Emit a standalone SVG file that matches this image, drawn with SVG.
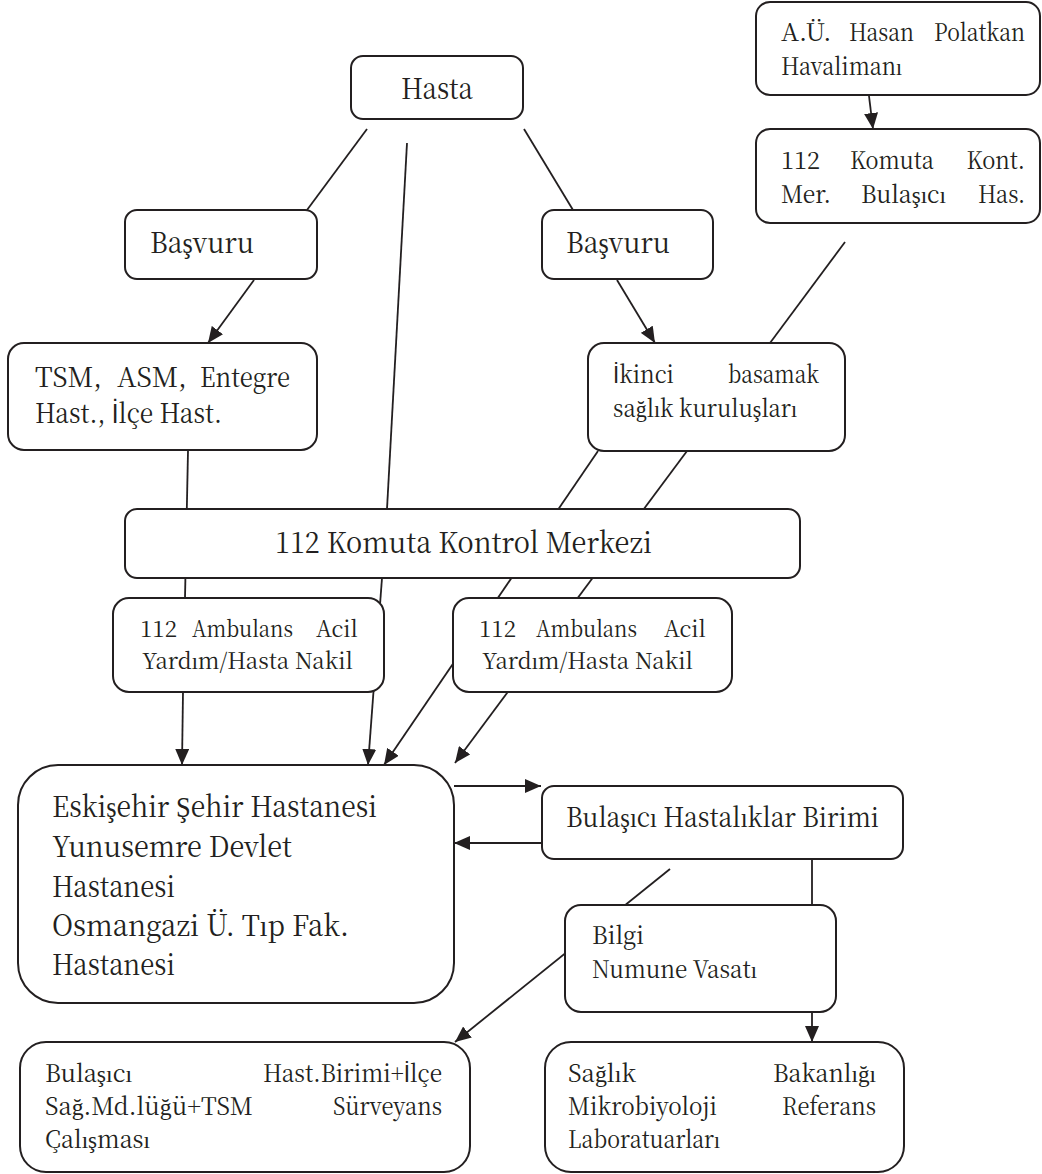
<svg xmlns="http://www.w3.org/2000/svg" width="1042" height="1174" viewBox="0 0 1042 1174">
<style>
  .box { fill: #ffffff; stroke: #231f20; stroke-width: 2; }
  .ln { fill: none; stroke: #231f20; stroke-width: 1.8; }
  .arr { fill: none; stroke: #231f20; stroke-width: 1.8; marker-end: url(#ah); }
  text { font-family: 'Noto Serif CJK SC', 'Liberation Serif', 'Times New Roman', serif; fill: #231f20; }
  .ii { font-family: 'Liberation Sans', 'DejaVu Sans', sans-serif; }
  .f32 { font-size: 29.5px; }
  .f31 { font-size: 28.5px; }
  .f29 { font-size: 27px; }
  .f26 { font-size: 24px; }
  .f24 { font-size: 22.5px; }
</style>
<defs>
  <marker id="ah" viewBox="0 0 16 14" refX="16" refY="7" markerWidth="16" markerHeight="14" markerUnits="userSpaceOnUse" orient="auto">
    <path d="M0,0 L16,7 L0,14 z" fill="#231f20"/>
  </marker>
</defs>
<rect width="1042" height="1174" fill="#ffffff"/>

<g id="connectors">
  <line class="ln" x1="367" y1="129" x2="307" y2="210"/>
  <line class="ln" x1="524" y1="129" x2="573" y2="210"/>
  <line class="ln" x1="407" y1="143" x2="387" y2="509"/>
  <line class="arr" x1="382" y1="578" x2="368" y2="765"/>
  <line class="arr" x1="869" y1="96" x2="873" y2="129"/>
  <line class="arr" x1="254" y1="280" x2="208" y2="343"/>
  <line class="arr" x1="617" y1="280" x2="655" y2="343"/>
  <line class="ln" x1="845" y1="242" x2="770" y2="343"/>
  <line class="ln" x1="188" y1="451" x2="185" y2="598"/>
  <line class="arr" x1="183" y1="692" x2="182" y2="765"/>
  <line class="arr" x1="598" y1="451" x2="384" y2="765"/>
  <line class="arr" x1="687" y1="451" x2="455" y2="763"/>
  <line class="arr" x1="454" y1="786" x2="541" y2="786"/>
  <line class="arr" x1="541" y1="843" x2="454" y2="843"/>
  <line class="arr" x1="670" y1="869" x2="455" y2="1042"/>
  <line class="arr" x1="812" y1="859" x2="812" y2="1042"/>
</g>

<g id="havalimani">
  <rect class="box" x="756" y="2" width="284" height="93" rx="14"/>
  <text class="f26" x="781" y="41" textLength="50.5" lengthAdjust="spacingAndGlyphs">A.Ü.</text>
  <text class="f26" x="849" y="41" textLength="65" lengthAdjust="spacingAndGlyphs">Hasan</text>
  <text class="f26" x="934" y="41" textLength="91" lengthAdjust="spacingAndGlyphs">Polatkan</text>
  <text class="f26" x="781" y="75" textLength="121" lengthAdjust="spacingAndGlyphs">Havalimanı</text>
</g>

<g id="komuta-bulasici">
  <rect class="box" x="756" y="129" width="284" height="94" rx="14"/>
  <text class="f26" x="781" y="169" textLength="39" lengthAdjust="spacingAndGlyphs">112</text>
  <text class="f26" x="850" y="169" textLength="84" lengthAdjust="spacingAndGlyphs">Komuta</text>
  <text class="f26" x="966.5" y="169" textLength="58.5" lengthAdjust="spacingAndGlyphs">Kont.</text>
  <text class="f26" x="781" y="203" textLength="50" lengthAdjust="spacingAndGlyphs">Mer.</text>
  <text class="f26" x="861" y="203" textLength="85" lengthAdjust="spacingAndGlyphs">Bulaşıcı</text>
  <text class="f26" x="978" y="203" textLength="47" lengthAdjust="spacingAndGlyphs">Has.</text>
</g>

<g id="hasta">
  <rect class="box" x="351" y="56" width="172" height="63" rx="12"/>
  <text class="f31" x="401" y="99" textLength="72" lengthAdjust="spacingAndGlyphs">Hasta</text>
</g>

<g id="basvuru-sol">
  <rect class="box" x="125" y="210" width="192" height="69" rx="12"/>
  <text class="f31" x="150" y="253" textLength="104" lengthAdjust="spacingAndGlyphs">Başvuru</text>
</g>

<g id="basvuru-sag">
  <rect class="box" x="542" y="210" width="171" height="69" rx="12"/>
  <text class="f31" x="566" y="253" textLength="104" lengthAdjust="spacingAndGlyphs">Başvuru</text>
</g>

<g id="tsm">
  <rect class="box" x="8" y="343" width="309" height="107" rx="16"/>
  <text class="f29" x="35" y="387" textLength="67" lengthAdjust="spacingAndGlyphs">TSM,</text>
  <text class="f29" x="117" y="387" textLength="70" lengthAdjust="spacingAndGlyphs">ASM,</text>
  <text class="f29" x="200" y="387" textLength="90" lengthAdjust="spacingAndGlyphs">Entegre</text>
  <text class="f29" x="35" y="423" textLength="187" lengthAdjust="spacingAndGlyphs">Hast., <tspan class="ii">İ</tspan>lçe Hast.</text>
</g>

<g id="ikinci-basamak">
  <rect class="box" x="588" y="343" width="257" height="108" rx="16"/>
  <text class="f26" x="613" y="383" textLength="61" lengthAdjust="spacingAndGlyphs"><tspan class="ii">İ</tspan>kinci</text>
  <text class="f26" x="728" y="383" textLength="91" lengthAdjust="spacingAndGlyphs">basamak</text>
  <text class="f26" x="613" y="417" textLength="184" lengthAdjust="spacingAndGlyphs">sağlık kuruluşları</text>
</g>

<g id="komuta-merkezi">
  <rect class="box" x="125" y="509" width="675" height="69" rx="12"/>
  <text class="f32" x="275" y="553" textLength="377" lengthAdjust="spacingAndGlyphs">112 Komuta Kontrol Merkezi</text>
</g>

<g id="ambulans-sol">
  <rect class="box" x="113" y="598" width="271" height="94" rx="16"/>
  <text class="f24" x="140" y="637" textLength="37" lengthAdjust="spacingAndGlyphs">112</text>
  <text class="f24" x="192" y="637" textLength="101" lengthAdjust="spacingAndGlyphs">Ambulans</text>
  <text class="f24" x="316" y="637" textLength="42" lengthAdjust="spacingAndGlyphs">Acil</text>
  <text class="f24" x="142" y="669" textLength="211" lengthAdjust="spacingAndGlyphs">Yardım/Hasta Nakil</text>
</g>

<g id="ambulans-sag">
  <rect class="box" x="453" y="598" width="279" height="94" rx="16"/>
  <text class="f24" x="479" y="637" textLength="37" lengthAdjust="spacingAndGlyphs">112</text>
  <text class="f24" x="536" y="637" textLength="101" lengthAdjust="spacingAndGlyphs">Ambulans</text>
  <text class="f24" x="664" y="637" textLength="42" lengthAdjust="spacingAndGlyphs">Acil</text>
  <text class="f24" x="482" y="669" textLength="211" lengthAdjust="spacingAndGlyphs">Yardım/Hasta Nakil</text>
</g>

<g id="hastaneler">
  <rect class="box" x="18" y="765" width="436" height="238" rx="40"/>
  <text class="f32" x="52" y="817" textLength="325" lengthAdjust="spacingAndGlyphs">Eskişehir Şehir Hastanesi</text>
  <text class="f32" x="52" y="857" textLength="240" lengthAdjust="spacingAndGlyphs">Yunusemre Devlet</text>
  <text class="f32" x="52" y="897" textLength="123" lengthAdjust="spacingAndGlyphs">Hastanesi</text>
  <text class="f32" x="52" y="936" textLength="297" lengthAdjust="spacingAndGlyphs">Osmangazi Ü. Tıp Fak.</text>
  <text class="f32" x="52" y="975" textLength="123" lengthAdjust="spacingAndGlyphs">Hastanesi</text>
</g>

<g id="bulasici-birimi">
  <rect class="box" x="542" y="786" width="361" height="73" rx="12"/>
  <text class="f29" x="566" y="827" textLength="313" lengthAdjust="spacingAndGlyphs">Bulaşıcı Hastalıklar Birimi</text>
</g>

<g id="bilgi">
  <rect class="box" x="565" y="905" width="271" height="107" rx="16"/>
  <text class="f26" x="592" y="944" textLength="52" lengthAdjust="spacingAndGlyphs">Bilgi</text>
  <text class="f26" x="592" y="978" textLength="165" lengthAdjust="spacingAndGlyphs">Numune Vasatı</text>
</g>

<g id="surveyans">
  <rect class="box" x="20" y="1042" width="450" height="130" rx="26"/>
  <text class="f26" x="45" y="1082" textLength="87" lengthAdjust="spacingAndGlyphs">Bulaşıcı</text>
  <text class="f26" x="263" y="1082" textLength="179" lengthAdjust="spacingAndGlyphs">Hast.Birimi+<tspan class="ii">İ</tspan>lçe</text>
  <text class="f26" x="45" y="1115" textLength="208" lengthAdjust="spacingAndGlyphs">Sağ.Md.lüğü+TSM</text>
  <text class="f26" x="333" y="1115" textLength="109" lengthAdjust="spacingAndGlyphs">Sürveyans</text>
  <text class="f26" x="45" y="1148" textLength="105" lengthAdjust="spacingAndGlyphs">Çalışması</text>
</g>

<g id="referans-lab">
  <rect class="box" x="545" y="1042" width="359" height="130" rx="26"/>
  <text class="f26" x="568" y="1082" textLength="68" lengthAdjust="spacingAndGlyphs">Sağlık</text>
  <text class="f26" x="773" y="1082" textLength="103" lengthAdjust="spacingAndGlyphs">Bakanlığı</text>
  <text class="f26" x="568" y="1115" textLength="149" lengthAdjust="spacingAndGlyphs">Mikrobiyoloji</text>
  <text class="f26" x="782" y="1115" textLength="94" lengthAdjust="spacingAndGlyphs">Referans</text>
  <text class="f26" x="568" y="1148" textLength="152" lengthAdjust="spacingAndGlyphs">Laboratuarları</text>
</g>
</svg>
